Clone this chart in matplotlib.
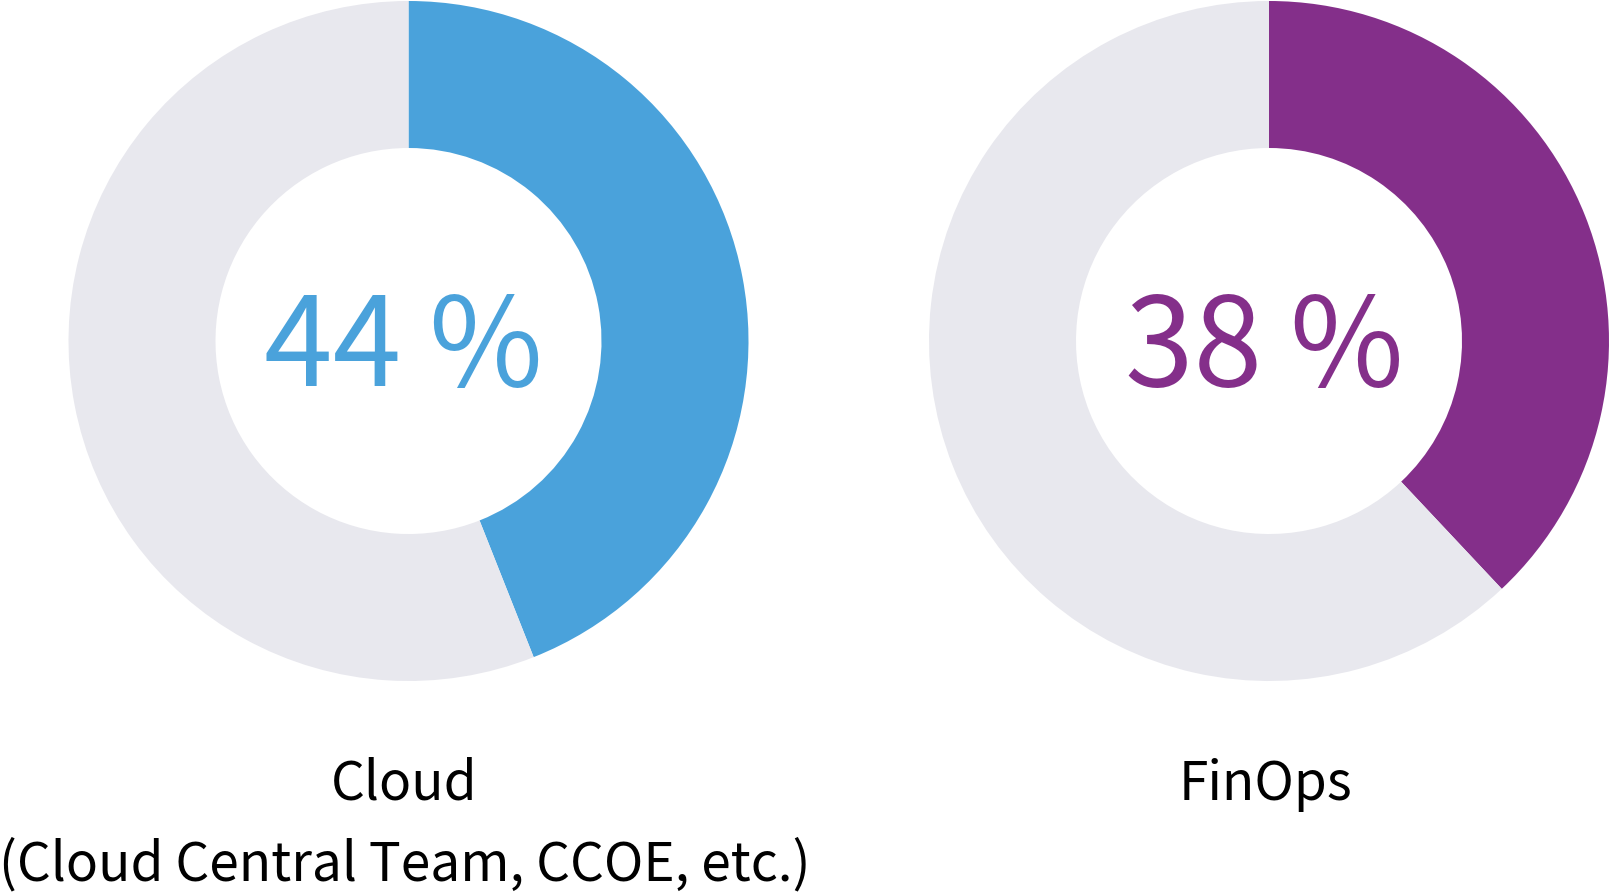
import matplotlib
matplotlib.use("Agg")
from matplotlib import pyplot as plt

plt.rcParams['font.family'] = ['Noto Sans CJK JP', 'DejaVu Sans']

# data
labels = ['Cloud\n(Cloud Central Team, CCOE, etc.)', 'FinOps']
shares = [44, 38]
colors = ['#4AA2DB', '#842F8A']
rest_color = '#E8E8EE'

W, H = 1610, 893
fig = plt.figure(figsize=(W / 100, H / 100), dpi=100)
ax = fig.add_axes([0, 0, 1, 1])

centers_x = [408.5, 1269]
cy = H - 341
r_out, r_in = 340, 193

for i, (lab, val, col) in enumerate(zip(labels, shares, colors)):
    cx = centers_x[i]
    ax.pie([val, 100 - val], colors=[col, rest_color], startangle=90,
           counterclock=False, center=(cx, cy), radius=r_out,
           wedgeprops=dict(width=r_out - r_in, linewidth=0), frame=True)
    ax.text(cx - 5, cy + 4, f'{val} %', color=col, fontsize=89,
            ha='center', va='center_baseline')
    # label lines, one baseline every 80 px
    for k, line in enumerate(lab.split('\n')):
        ax.text(cx - 4, H - 800 - 80 * k, line, color='black', fontsize=38.3,
                ha='center', va='baseline')

ax.set_xlim(0, W)
ax.set_ylim(0, H)
ax.set_aspect('equal')
ax.axis('off')

fig.savefig('out.png', dpi=100)
